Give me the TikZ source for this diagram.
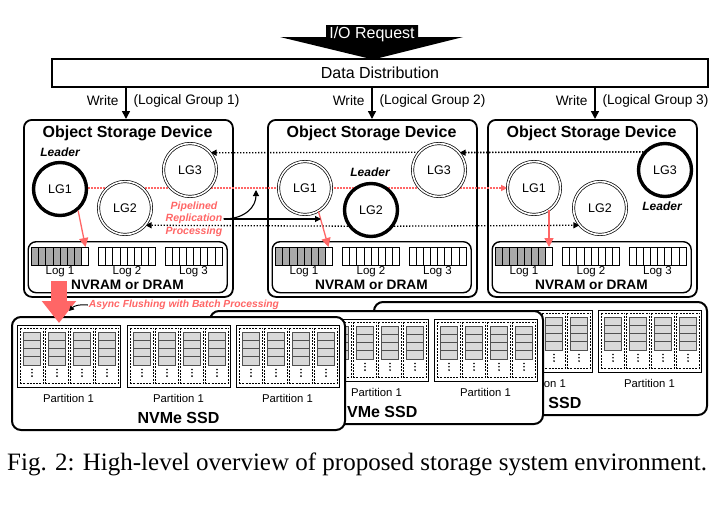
\documentclass[tikz,border=0pt]{standalone}
\usepackage{fontspec}
\setmainfont{Liberation Sans}
\newfontfamily\capfont{Liberation Serif}
\usetikzlibrary{arrows.meta,calc}
\definecolor{redc}{RGB}{255,102,102}
\definecolor{loggray}{RGB}{168,168,168}
\definecolor{cellgray}{RGB}{217,217,217}
\definecolor{celledge}{RGB}{80,80,80}
\pgfdeclarelayer{osdl}
\pgfdeclarelayer{linel}
\pgfsetlayers{osdl,linel,main}
\tikzset{
  fsz/.style={font=\fontsize{#1}{#1}\selectfont},
  fszb/.style={font=\fontsize{#1}{#1}\selectfont\bfseries},
  fszbi/.style={font=\fontsize{#1}{#1}\selectfont\bfseries\itshape},
  tip/.style={-{Triangle[length=8pt,width=8pt]}},
  smalltip/.style={-{Triangle[length=6pt,width=6pt]}},
  osdbox/.style={draw, line width=1.8, rounded corners=8, fill=white, minimum width=209, minimum height=177, inner sep=0},
  nvbox/.style={draw, line width=1.4, rounded corners=8, minimum width=199, minimum height=51, inner sep=0},
  logbox/.style={minimum width=57, minimum height=18, inner sep=0},
  cellline/.style={line width=0.7},
  lgc/.style={circle, draw, fill=white, minimum size=53, inner sep=0, double, double distance=1.6, line width=0.7, fsz=12.5},
  leaderc/.style={circle, draw, fill=white, minimum size=53, inner sep=0, line width=3.4, fsz=12.5},
  bdot/.style={line width=1.3, dash pattern=on 1.3pt off 1.7pt},
  rdot/.style={draw=redc, line width=1.3, dash pattern=on 1.3pt off 1.7pt},
  redarrow/.style={draw=redc, line width=1.3, -{Triangle[length=9pt,width=9pt]}, redc},
  ssdbox/.style={draw, fill=white, line width=2, rounded corners=9},
  dashcol/.style={line width=0.6, dash pattern=on 2pt off 1.2pt},
  cellst/.style={fill=cellgray, draw=celledge, line width=0.8},
  pics/nvme/.style={code={
    \draw[ssdbox] (0,0) rectangle (333,113);
    \foreach \b [count=\n] in {5,115,224}{
      \draw[line width=0.9] (\b,8) rectangle (\b+103,70);
      \foreach \c in {0,1,2,3}{
        \draw[dashcol] (\b+3.7+25*\c,11) rectangle (\b+26.3+25*\c,66);
        \foreach \r in {0,1,2,3}
          \draw[cellst] (\b+6.5+25*\c,15+8.25*\r) rectangle (\b+23.5+25*\c,23.25+8.25*\r);
        \foreach \d in {0,1,2}
          \fill (\b+15+25*\c,52.5+3.3*\d) circle (0.9);
      }
      \ifnum\n<#1\relax\else
        \node[fsz=11.3] at (\b+51.5,81) {Partition 1};
      \fi
    }
    \node[fszb=16] at (166.5,101) {NVMe SSD};
  }}
}
\begin{document}
\begin{tikzpicture}[x=1pt,y=-1pt]
\begin{pgfonlayer}{osdl}
\fill[white] (0,0) rectangle (717,506);
\end{pgfonlayer}
\useasboundingbox (0,0) rectangle (717,506);

% I/O request
\fill (280,37) -- (326,37) -- (326,25) -- (418,25) -- (418,37) -- (463,37) -- (373,59.5) -- cycle;
\node[fsz=16, text=white] (io) at (372,34.5) {I/O Request};

% Data distribution
\node[draw, line width=1.8, minimum width=656, minimum height=28, inner sep=0, fsz=16] (dd) at (380,73) {Data Distribution};

% OSD frames
\begin{pgfonlayer}{osdl}
\foreach \k/\ox in {1/23, 2/267, 3/487}{
  \node[osdbox, anchor=north west] (osd\k) at (\ox,119) {};
  \node[fszb=16] at (\ox+104.5,133) {Object Storage Device};
  \node[nvbox, anchor=north west] (nv\k) at (\ox+4.5,241) {};
  \foreach \j/\lx in {1/8.5, 2/75.5, 3/142}{
    \node[logbox, anchor=north west] (log\k\j) at (\ox+\lx,247) {};
    \node[fsz=11.5] at (\ox+\lx+28.5,271.5) {Log \j};
  }
  \fill[loggray] (log\k1.north west) rectangle ($(log\k1.south west)+(49.875,0)$);
  \foreach \j in {1,2,3}{
    \foreach \c in {1,...,7}
      \draw[cellline] ($(log\k\j.north west)+(\c*7.125,0)$) -- ($(log\k\j.south west)+(\c*7.125,0)$);
    \draw[line width=0.9] (log\k\j.north west) rectangle (log\k\j.south east);
  }
  \node[fszb=13.7] at (\ox+104.5,285) {NVRAM or DRAM};
}
\end{pgfonlayer}

% write arrows
\coordinate (w1) at (126,119);
\coordinate (w2) at (372,119);
\coordinate (w3) at (595,119);
\foreach \k in {1,2,3}{
  \draw[line width=1.5, tip] (w\k |- dd.south) -- (w\k);
  \node[fsz=13.7, anchor=east] at ($(w\k)+(-4,-18)$) {Write};
  \node[fsz=13.7, anchor=west] at ($(w\k)+(4,-18)$) {(Logical Group \k)};
}

% circles
\node[leaderc] (a1) at (60,189) {LG1};
\node[lgc] (a2) at (125,208) {LG2};
\node[lgc] (a3) at (190,170) {LG3};
\node[lgc] (b1) at (305,188) {LG1};
\node[leaderc] (b2) at (371,210) {LG2};
\node[lgc] (b3) at (439,170) {LG3};
\node[lgc] (c1) at (534,188) {LG1};
\node[lgc] (c2) at (600,208) {LG2};
\node[leaderc] (c3) at (665,170) {LG3};

\node[fszbi=12] at (60,152) {Leader};
\node[fszbi=12] at (370,172) {Leader};
\node[fszbi=12] at (662,206) {Leader};

% replication lines
\begin{pgfonlayer}{linel}
\draw[bdot, smalltip] (c3.140) -- (a3.40);
\draw[bdot, smalltip] (c3.140) -- (b3.40);
\draw[rdot, -{Triangle[length=6pt,width=6pt,fill=redc]}, redc] (a1.east |- 0,188) -- (c1.west);
\draw[bdot, smalltip] (b2.215) -- (a2.320);
\draw[bdot, smalltip] (b2.325) -- (c2.220);
\end{pgfonlayer}

% log writes
\coordinate (e1) at ($(log11.north west)+(54,0)$);
\coordinate (e2) at ($(log21.north west)+(53,0)$);
\coordinate (e3) at ($(log31.north west)+(53.5,0)$);
\draw[redarrow] (a1.-50) -- (e1);
\draw[redarrow] (b1.-60) -- (e2);
\draw[redarrow] (e3 |- c1.-55) -- (e3);

% pipelined replication
\node[text=redc, align=center, inner sep=1, font=\fontsize{10.5}{12.3}\selectfont\bfseries\itshape] (pip) at (194,219) {Pipelined\\Replication\\Processing};
\coordinate (p1) at (321,219);
\coordinate (p2) at (256,190);
\draw[line width=1.1, smalltip] (pip.east) -- (p1);
\draw[line width=1.1, smalltip] (pip.east) .. controls (246,219) and (256,206) .. (p2);

% NVMe SSDs
\pic at (374,302) {nvme=2};
\pic at (210,311) {nvme=2};
\pic at (12,317) {nvme=1};

% flush arrow
\coordinate (fa) at (59,281);
\coordinate (fb) at (59,323);
\draw[redc, line width=16, -{Triangle[length=22pt,width=33pt]}] (fa) -- (fb);
\node[fszbi=10.3, text=redc, inner sep=1] (asy) at (184,305) {Async Flushing with Batch Processing};
\coordinate (fl) at (69,311);
\draw[line width=1, -{Triangle[length=5pt,width=5pt]}] (asy.west) .. controls (79,304) and (74,306) .. (fl);

% caption
\node[font=\capfont\fontsize{25}{25}\selectfont, anchor=west, inner sep=0] (cap) at (7,464) {Fig. 2: High-level overview of proposed storage system environment.};
\end{tikzpicture}
\end{document}
